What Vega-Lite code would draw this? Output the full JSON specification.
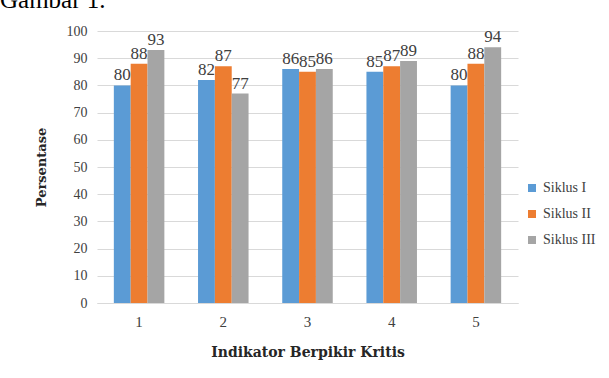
{
  "$schema": "https://vega.github.io/schema/vega-lite/v6.json",
  "width": 421,
  "height": 272,
  "autosize": {"type": "none"},
  "padding": {"left": 97, "top": 31, "right": 91, "bottom": 75},
  "background": "white",
  "title": {
    "text": "Gambar 1.",
    "anchor": "start",
    "frame": "group",
    "orient": "top",
    "font": "Liberation Serif",
    "fontSize": 25,
    "fontWeight": "normal",
    "color": "#000000",
    "dx": -97,
    "offset": 0,
    "baseline": "alphabetic",
    "dy": 9
  },
  "data": {
    "values": [
      {"indikator": "1", "siklus": "Siklus I", "nilai": 80},
      {"indikator": "1", "siklus": "Siklus II", "nilai": 88},
      {"indikator": "1", "siklus": "Siklus III", "nilai": 93},
      {"indikator": "2", "siklus": "Siklus I", "nilai": 82},
      {"indikator": "2", "siklus": "Siklus II", "nilai": 87},
      {"indikator": "2", "siklus": "Siklus III", "nilai": 77},
      {"indikator": "3", "siklus": "Siklus I", "nilai": 86},
      {"indikator": "3", "siklus": "Siklus II", "nilai": 85},
      {"indikator": "3", "siklus": "Siklus III", "nilai": 86},
      {"indikator": "4", "siklus": "Siklus I", "nilai": 85},
      {"indikator": "4", "siklus": "Siklus II", "nilai": 87},
      {"indikator": "4", "siklus": "Siklus III", "nilai": 89},
      {"indikator": "5", "siklus": "Siklus I", "nilai": 80},
      {"indikator": "5", "siklus": "Siklus II", "nilai": 88},
      {"indikator": "5", "siklus": "Siklus III", "nilai": 94}
    ]
  },
  "encoding": {
    "x": {
      "field": "indikator",
      "type": "nominal",
      "scale": {"paddingInner": 0.4, "paddingOuter": 0.2},
      "axis": {
        "title": "Indikator Berpikir Kritis",
        "labelAngle": 0,
        "labelFont": "Liberation Serif",
        "labelFontSize": 15,
        "labelColor": "#404040",
        "labelPadding": 11,
        "titleFont": "DejaVu Serif, serif",
        "titleFontSize": 14,
        "titleFontWeight": "bold",
        "titleColor": "#262626",
        "titlePadding": 16,
        "domainColor": "#d9d9d9",
        "ticks": false
      }
    },
    "xOffset": {"field": "siklus", "type": "nominal"},
    "y": {
      "field": "nilai",
      "type": "quantitative",
      "scale": {"domain": [0, 100]},
      "axis": {
        "title": "Persentase",
        "values": [0, 10, 20, 30, 40, 50, 60, 70, 80, 90, 100],
        "labelFont": "Liberation Serif",
        "labelFontSize": 14,
        "labelColor": "#404040",
        "labelPadding": 10,
        "titleFont": "DejaVu Serif, serif",
        "titleFontSize": 13,
        "titleFontWeight": "bold",
        "titleColor": "#262626",
        "titlePadding": 18,
        "gridColor": "#d9d9d9",
        "domain": false,
        "ticks": false
      }
    }
  },
  "layer": [
    {
      "mark": {"type": "bar"},
      "encoding": {
        "color": {
          "field": "siklus",
          "type": "nominal",
          "scale": {
            "domain": ["Siklus I", "Siklus II", "Siklus III"],
            "range": ["#5B9BD5", "#ED7D31", "#A5A5A5"]
          },
          "legend": {
            "title": null,
            "orient": "none",
            "legendX": 428,
            "legendY": 150,
            "symbolType": "square",
            "symbolSize": 64,
            "symbolStrokeWidth": 0,
            "labelFont": "Liberation Serif",
            "labelFontSize": 14,
            "labelColor": "#404040",
            "rowPadding": 12,
            "labelOffset": 4
          }
        }
      }
    },
    {
      "mark": {
        "type": "text",
        "baseline": "bottom",
        "dy": -1,
        "font": "Liberation Serif",
        "fontSize": 17,
        "color": "#404040"
      },
      "encoding": {
        "text": {"field": "nilai", "type": "quantitative"}
      }
    }
  ],
  "config": {"view": {"stroke": null}}
}
